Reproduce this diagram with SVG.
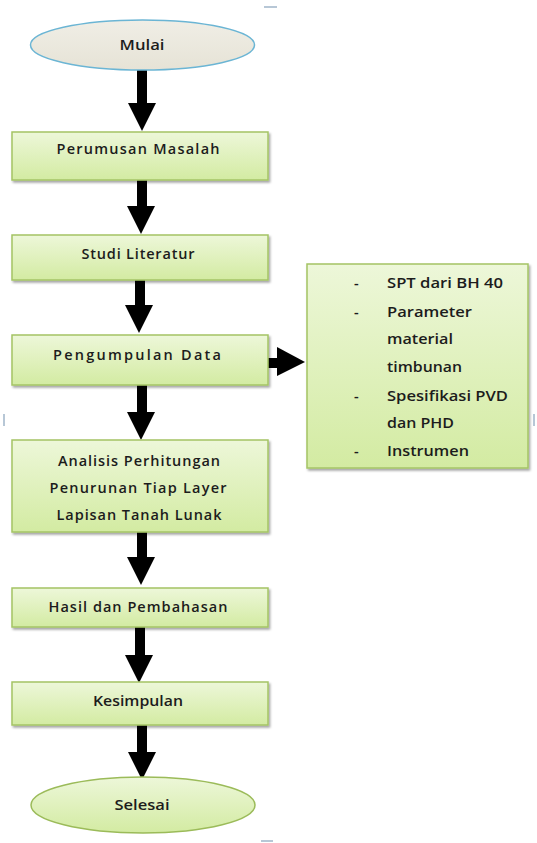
<svg xmlns="http://www.w3.org/2000/svg" width="537" height="843" viewBox="0 0 537 843">
  <defs>
    <linearGradient id="boxFill" x1="0" y1="0" x2="0" y2="1">
      <stop offset="0" stop-color="#EDF7D9"/>
      <stop offset="1" stop-color="#D3EBA2"/>
    </linearGradient>
    <linearGradient id="startFill" x1="0" y1="0" x2="0" y2="1">
      <stop offset="0" stop-color="#F0EEE6"/>
      <stop offset="1" stop-color="#E6E3D6"/>
    </linearGradient>
    <filter id="shadow" x="-10%" y="-10%" width="125%" height="130%">
      <feDropShadow dx="1.5" dy="2" stdDeviation="1.2" flood-color="#000" flood-opacity="0.35"/>
    </filter>
    <polygon id="headDown" points="-14,0 14,0 0,28"/>
  </defs>
  <style>
    .box { fill: url(#boxFill); stroke: #A4C464; stroke-width: 1.5; filter: url(#shadow); }
    .start { fill: url(#startFill); stroke: #6BB5D4; stroke-width: 1.5; }
    .end { fill: url(#boxFill); stroke: #9BBB59; stroke-width: 1.5; }
    .lbl { font-family: "Open Sans", "Liberation Sans", sans-serif; font-size: 14.5px; font-weight: 600; fill: #1C1C1C; text-anchor: middle; dominant-baseline: central; }
    .item { font-family: "Open Sans", "Liberation Sans", sans-serif; font-size: 14.5px; font-weight: 600; fill: #1C1C1C; dominant-baseline: central; }
    .arrow { fill: #000; }
    .mark { stroke: #9FB4C8; stroke-width: 1.5; }
  </style>

  <rect width="537" height="843" fill="#fff"/>

  <!-- page corner marks -->
  <g id="marks">
    <line class="mark" x1="264" y1="7" x2="277" y2="7"/>
    <line class="mark" x1="4" y1="414" x2="4" y2="426"/>
    <line class="mark" x1="534" y1="414" x2="534" y2="426"/>
    <line class="mark" x1="261" y1="841" x2="273" y2="841"/>
  </g>

  <!-- connectors -->
  <g id="connectors">
    <rect class="arrow" x="137" y="70" width="10" height="34"/>
    <use href="#headDown" x="142" y="103" class="arrow"/>
    <rect class="arrow" x="137" y="180" width="10" height="28"/>
    <use href="#headDown" x="141" y="206" class="arrow"/>
    <rect class="arrow" x="135" y="280" width="10" height="26"/>
    <use href="#headDown" x="139" y="305" class="arrow"/>
    <rect class="arrow" x="137" y="385" width="10" height="28"/>
    <use href="#headDown" x="141" y="412" class="arrow"/>
    <rect class="arrow" x="137" y="532" width="10" height="26"/>
    <use href="#headDown" x="141" y="557" class="arrow"/>
    <rect class="arrow" x="135" y="627" width="10" height="31"/>
    <use href="#headDown" x="139" y="655" class="arrow"/>
    <rect class="arrow" x="137" y="725" width="10" height="28"/>
    <use href="#headDown" x="142" y="752" class="arrow"/>
    <!-- side arrow to data list -->
    <rect class="arrow" x="268" y="358" width="11" height="10"/>
    <polygon class="arrow" points="277,347 305,362 277,376"/>
  </g>

  <g id="mulai">
    <ellipse class="start" cx="142.5" cy="45" rx="112" ry="25"/>
    <text class="lbl" x="142" y="44" textLength="45" lengthAdjust="spacingAndGlyphs">Mulai</text>
  </g>

  <g id="perumusan">
    <rect class="box" x="12" y="132" width="256" height="48"/>
    <text class="lbl" x="138" y="148" textLength="163" lengthAdjust="spacing">Perumusan Masalah</text>
  </g>

  <g id="studi">
    <rect class="box" x="12" y="235" width="256" height="45"/>
    <text class="lbl" x="138" y="253" textLength="113" lengthAdjust="spacing">Studi Literatur</text>
  </g>

  <g id="pengumpulan">
    <rect class="box" x="12" y="335" width="256" height="50"/>
    <text class="lbl" x="137" y="354" textLength="168" lengthAdjust="spacing">Pengumpulan Data</text>
  </g>

  <g id="data">
    <rect class="box" x="307" y="264" width="221" height="204"/>
    <text class="item" x="354" y="282">-</text>
    <text class="item" x="387" y="282" textLength="116" lengthAdjust="spacingAndGlyphs">SPT dari BH 40</text>
    <text class="item" x="354" y="311">-</text>
    <text class="item" x="387" y="311" textLength="85" lengthAdjust="spacingAndGlyphs">Parameter</text>
    <text class="item" x="387" y="338" textLength="66" lengthAdjust="spacingAndGlyphs">material</text>
    <text class="item" x="387" y="366" textLength="75" lengthAdjust="spacingAndGlyphs">timbunan</text>
    <text class="item" x="354" y="395">-</text>
    <text class="item" x="387" y="395" textLength="121" lengthAdjust="spacingAndGlyphs">Spesifikasi PVD</text>
    <text class="item" x="387" y="422" textLength="67" lengthAdjust="spacingAndGlyphs">dan PHD</text>
    <text class="item" x="354" y="450">-</text>
    <text class="item" x="387" y="450" textLength="82" lengthAdjust="spacingAndGlyphs">Instrumen</text>
  </g>

  <g id="analisis">
    <rect class="box" x="12" y="440" width="256" height="92"/>
    <text class="lbl" x="139" y="460" textLength="162" lengthAdjust="spacing">Analisis Perhitungan</text>
    <text class="lbl" x="138" y="487" textLength="177" lengthAdjust="spacing">Penurunan Tiap Layer</text>
    <text class="lbl" x="139" y="514" textLength="165" lengthAdjust="spacing">Lapisan Tanah Lunak</text>
  </g>

  <g id="hasil">
    <rect class="box" x="12" y="588" width="256" height="39"/>
    <text class="lbl" x="138" y="606" textLength="179" lengthAdjust="spacing">Hasil dan Pembahasan</text>
  </g>

  <g id="kesimpulan">
    <rect class="box" x="12" y="682" width="256" height="43"/>
    <text class="lbl" x="138" y="700" textLength="90" lengthAdjust="spacingAndGlyphs">Kesimpulan</text>
  </g>

  <g id="selesai">
    <ellipse class="end" cx="143" cy="805" rx="112" ry="28"/>
    <text class="lbl" x="142" y="804" textLength="55" lengthAdjust="spacingAndGlyphs">Selesai</text>
  </g>
</svg>
